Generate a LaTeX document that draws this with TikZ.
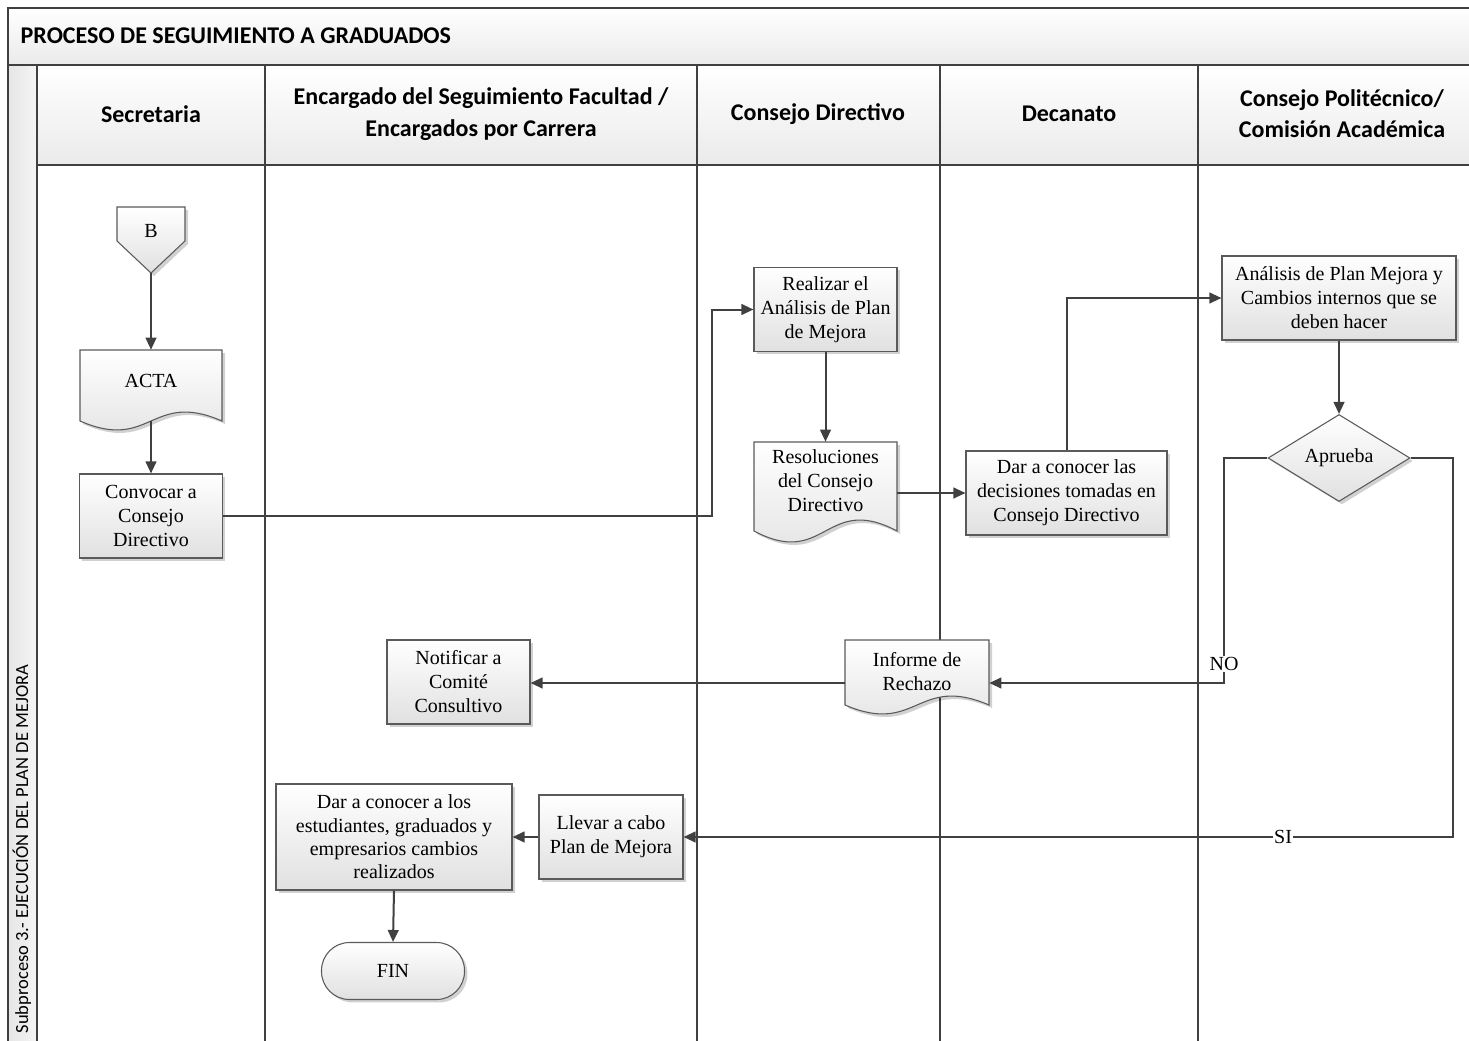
\documentclass[tikz,border=0pt]{standalone}
\usepackage{fontspec}
\setmainfont{Liberation Serif}
\newfontfamily\hdfont{Carlito}
\usetikzlibrary{arrows.meta,shapes.geometric,shadows,calc}

\definecolor{ln}{HTML}{404040}
\definecolor{bd}{HTML}{5A5A5A}

\tikzset{
  frame/.style={draw=ln, line width=1.3pt},
  hdtext/.style={font=\hdfont\bfseries\fontsize{18}{23.5}\selectfont, align=center},
  body/.style={font=\fontsize{15}{18}\selectfont, align=center},
  shad/.style={drop shadow={shadow xshift=2.2pt, shadow yshift=-2.2pt, fill=black, opacity=0.18}},
  box/.style={body, draw=bd, line width=0.8pt, top color=white, bottom color=black!12, shad, inner sep=0pt},
  doctext/.style={body, draw=none, inner sep=0pt},
  conn/.style={draw=ln, line width=1.5pt, -{Triangle[length=9pt,width=8pt]}},
  lbl/.style={body, fill=white, inner sep=1pt},
}

% document shape: x1, x2, top, base, control offset
\newcommand\docshape[5]{%
  \fill[black, opacity=0.18, shift={(3,3)}] (#1,#3) -- (#2,#3) -- (#2,#4)
     .. controls ({(#1+#2)/2},{#4-#5}) and ({(#1+#2)/2},{#4+#5}) .. (#1,#4) -- cycle;
  \draw[draw=bd, line width=0.8pt, top color=white, bottom color=black!12] (#1,#3) -- (#2,#3) -- (#2,#4)
     .. controls ({(#1+#2)/2},{#4-#5}) and ({(#1+#2)/2},{#4+#5}) .. (#1,#4) -- cycle;
}

\begin{document}
\begin{tikzpicture}[x=0.75pt, y=-0.75pt]
\useasboundingbox (0,0) rectangle (1469,1041);
\begin{scope}
  \clip (0,0) rectangle (1469,1041);
  \shade[top color=white, bottom color=black!8] (8,8) rectangle (1490,65);
  \shade[top color=white, bottom color=black!8] (37,65) rectangle (1490,165);
  \shade[left color=black!10, right color=black!4] (8,65) rectangle (37,1060);
  \draw[frame] (8,1060) -- (8,8) -- (1490,8);
  \draw[frame] (8,65) -- (1490,65);
  \draw[frame] (37,165) -- (1490,165);
  \foreach \x in {37,265,697,940,1198} \draw[frame] (\x,65) -- (\x,1060);
\end{scope}

% titles
\node[hdtext, anchor=west] (title) at (16,36) {PROCESO DE SEGUIMIENTO A GRADUADOS};
\node[hdtext] (h1) at (151,114) {Secretaria};
\node[hdtext] (h2) at (481,114) {Encargado del Seguimiento Facultad /\\Encargados por Carrera};
\node[hdtext] (h3) at (818,114) {Consejo Directivo};
\node[hdtext] (h4) at (1069,114) {Decanato};
\node[hdtext] (h5) at (1342,114) {Consejo Politécnico/\\Comisión Académica};
\node[font=\hdfont\fontsize{13.9}{16}\selectfont, rotate=90, anchor=west] (sub) at (22,1038) {Subproceso 3.- EJECUCIÓN DEL PLAN DE MEJORA};

% B off-page connector
\fill[black, opacity=0.18, shift={(3,3)}] (117,207) -- (185,207) -- (185,241) -- (151,273) -- (117,241) -- cycle;
\draw[draw=bd, line width=0.8pt, top color=white, bottom color=black!12] (117,207) -- (185,207) -- (185,241) -- (151,273) -- (117,241) -- cycle;
\node[body] (B) at (151,231) {B};
\coordinate (Btip) at (151,273);

% documents
\docshape{80}{222}{350}{421}{31}
\node[doctext, minimum width=106.5pt, minimum height=46.5pt] (ACTA) at (151,381) {ACTA};
\coordinate (ACTAb) at (151,421);

\docshape{754}{897}{442}{531}{38}
\node[doctext, minimum width=107.25pt, minimum height=58.5pt] (Res) at (825.5,481) {Resoluciones\\del Consejo\\Directivo};

\docshape{845}{989}{640}{705}{31}
\node[doctext, minimum width=108pt, minimum height=48pt] (Inf) at (917,672) {Informe de\\Rechazo};

% process boxes
\node[box, minimum width=107.25pt, minimum height=63pt] (Conv) at (151,516) {Convocar a\\Consejo\\Directivo};
\node[box, minimum width=107.25pt, minimum height=63pt] (Real) at (825.5,309.5) {Realizar el\\Análisis de Plan\\de Mejora};
\node[box, minimum width=150.75pt, minimum height=63pt] (Dar) at (1066.5,493) {Dar a conocer las\\decisiones tomadas en\\Consejo Directivo};
\node[box, minimum width=175.5pt, minimum height=63pt] (Anal) at (1339,298) {Análisis de Plan Mejora y\\Cambios internos que se\\deben hacer};
\node[box, diamond, minimum width=106.5pt, minimum height=63pt] (Dia) at (1339,458) {Aprueba};
\node[box, minimum width=107.25pt, minimum height=63pt] (Notif) at (458.5,682) {Notificar a\\Comité\\Consultivo};
\node[box, minimum width=108pt, minimum height=63pt] (Llev) at (611,837) {Llevar a cabo\\Plan de Mejora};
\node[box, minimum width=177pt, minimum height=79.5pt, font=\fontsize{15}{17.5}\selectfont] (DarE) at (394,837) {Dar a conocer a los\\estudiantes, graduados y\\empresarios cambios\\realizados};
\node[box, rounded corners=21pt, minimum width=107.25pt, minimum height=42.75pt] (FIN) at (393,971) {FIN};

% connectors
\draw[conn] (Btip) -- (ACTA.north);
\draw[conn] (ACTAb) -- (Conv.north);
\draw[conn] (Conv.east) -- ++(489,0) |- (Real.west);
\draw[conn] (Real.south) -- (Res.north);
\draw[conn] (Dar.west -| Res.east) -- (Dar.west);
\draw[conn] (Dar.north) |- (Anal.west);
\draw[conn] (Anal.south) -- (Dia.north);
\coordinate (noC) at (1224,683);
\draw[conn] (Dia.west) -| (noC) -- (noC -| Inf.east);
\node[lbl] (NO) at (1224,664) {NO};
\coordinate (siC) at (1453,837);
\draw[conn] (Dia.east) -| (siC) -- (siC -| Llev.east);
\node[lbl] (SI) at (1283,837) {SI};
\draw[conn] (Inf.west |- noC) -- (Notif.east |- noC);
\draw[conn] (Llev.west) -- (DarE.east);
\draw[conn] (DarE.south) -- (FIN.north);
\end{tikzpicture}
\end{document}
